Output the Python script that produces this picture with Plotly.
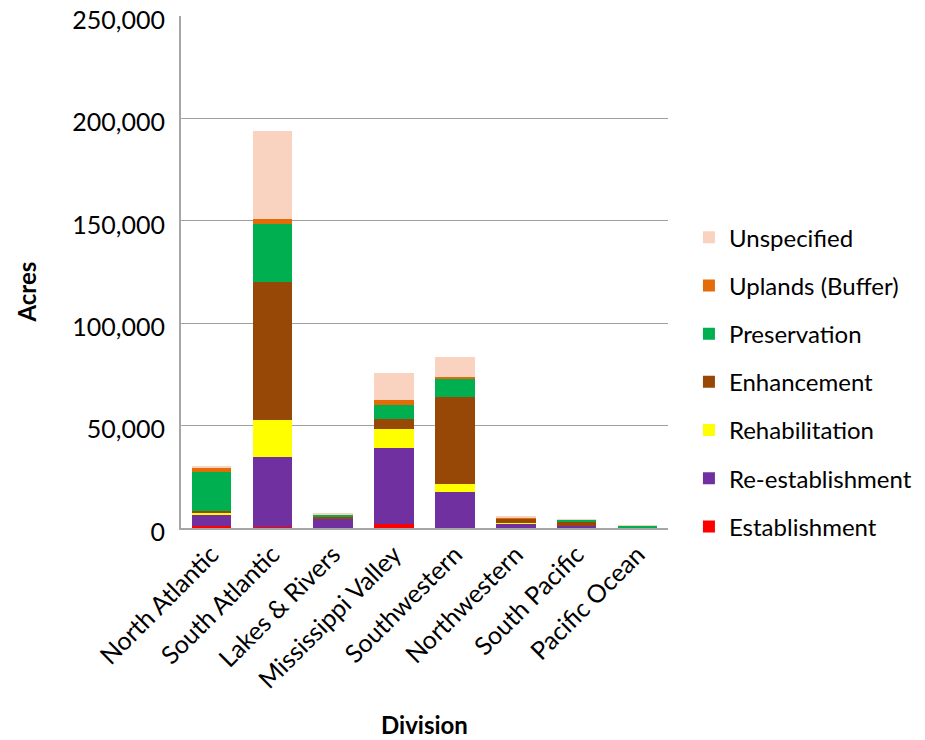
import plotly.graph_objects as go

divisions = ['North Atlantic', 'South Atlantic', 'Lakes & Rivers', 'Mississippi Valley',
             'Southwestern', 'Northwestern', 'South Pacific', 'Pacific Ocean']

establishment = [1100, 300, 100, 1800, 200, 100, 100, 0]
re_establishment = [5600, 34500, 4700, 37400, 17400, 2000, 800, 100]
rehabilitation = [500, 17900, 0, 9000, 4000, 500, 0, 0]
enhancement = [1100, 67300, 800, 4900, 42500, 2000, 2000, 0]
preservation = [19200, 28200, 1200, 6800, 9100, 200, 1300, 1000]
uplands = [2000, 2800, 0, 2600, 300, 200, 0, 0]
unspecified = [300, 43000, 200, 13300, 10200, 800, 100, 100]

series = [
    ('Establishment', establishment, '#FF0000'),
    ('Re-establishment', re_establishment, '#7030A0'),
    ('Rehabilitation', rehabilitation, '#FFFF00'),
    ('Enhancement', enhancement, '#974706'),
    ('Preservation', preservation, '#00B050'),
    ('Uplands (Buffer)', uplands, '#E36C09'),
    ('Unspecified', unspecified, '#FAD3C0'),
]

font_family = 'Lato, Arial, sans-serif'

fig = go.Figure()
for i, (name, values, color) in enumerate(series):
    fig.add_trace(go.Bar(
        x=divisions, y=values, name=name, legendgroup=name,
        legendrank=100 - i,  # top of the stack first in the legend
        marker=dict(color=color, line=dict(width=0)),
    ))

fig.update_layout(
    width=917, height=732,
    barmode='stack',
    bargap=0.35,
    paper_bgcolor='white',
    plot_bgcolor='white',
    margin=dict(l=173, r=255, t=8, b=212),
    font=dict(family=font_family, size=24, color='#000000'),
    legend=dict(
        traceorder='grouped',
        tracegroupgap=14,
        x=1.043, xanchor='left',
        y=0.611, yanchor='top',
        font=dict(size=24, color='#000000'),
        itemwidth=30,
    ),
)

# axis titles placed as annotations for exact positioning
fig.add_annotation(text='<b>Acres</b>', xref='paper', yref='paper',
                   x=-0.318, y=0.46, textangle=-90, showarrow=False,
                   font=dict(size=24), xanchor='center', yanchor='middle')
fig.add_annotation(text='<b>Division</b>', xref='paper', yref='paper',
                   x=0.5, y=-0.384, showarrow=False,
                   font=dict(size=24), xanchor='center', yanchor='middle')

fig.update_xaxes(
    automargin=False,
    tickangle=-45,
    tickfont=dict(size=25),
    showline=True, linecolor='#a6a6a6', linewidth=2,
    ticks='',
)
fig.update_yaxes(
    automargin=False,
    range=[0, 250000],
    dtick=50000,
    tickformat=',d',
    tickfont=dict(size=25),
    ticklabelstandoff=9,
    ticklabelshift=4,
    ticklabeloverflow='allow',
    showgrid=True, gridcolor='#a0a0a0', gridwidth=1,
    showline=True, linecolor='#a6a6a6', linewidth=2,
    ticks='',
    zeroline=False,
)

fig.write_html('out.html')
